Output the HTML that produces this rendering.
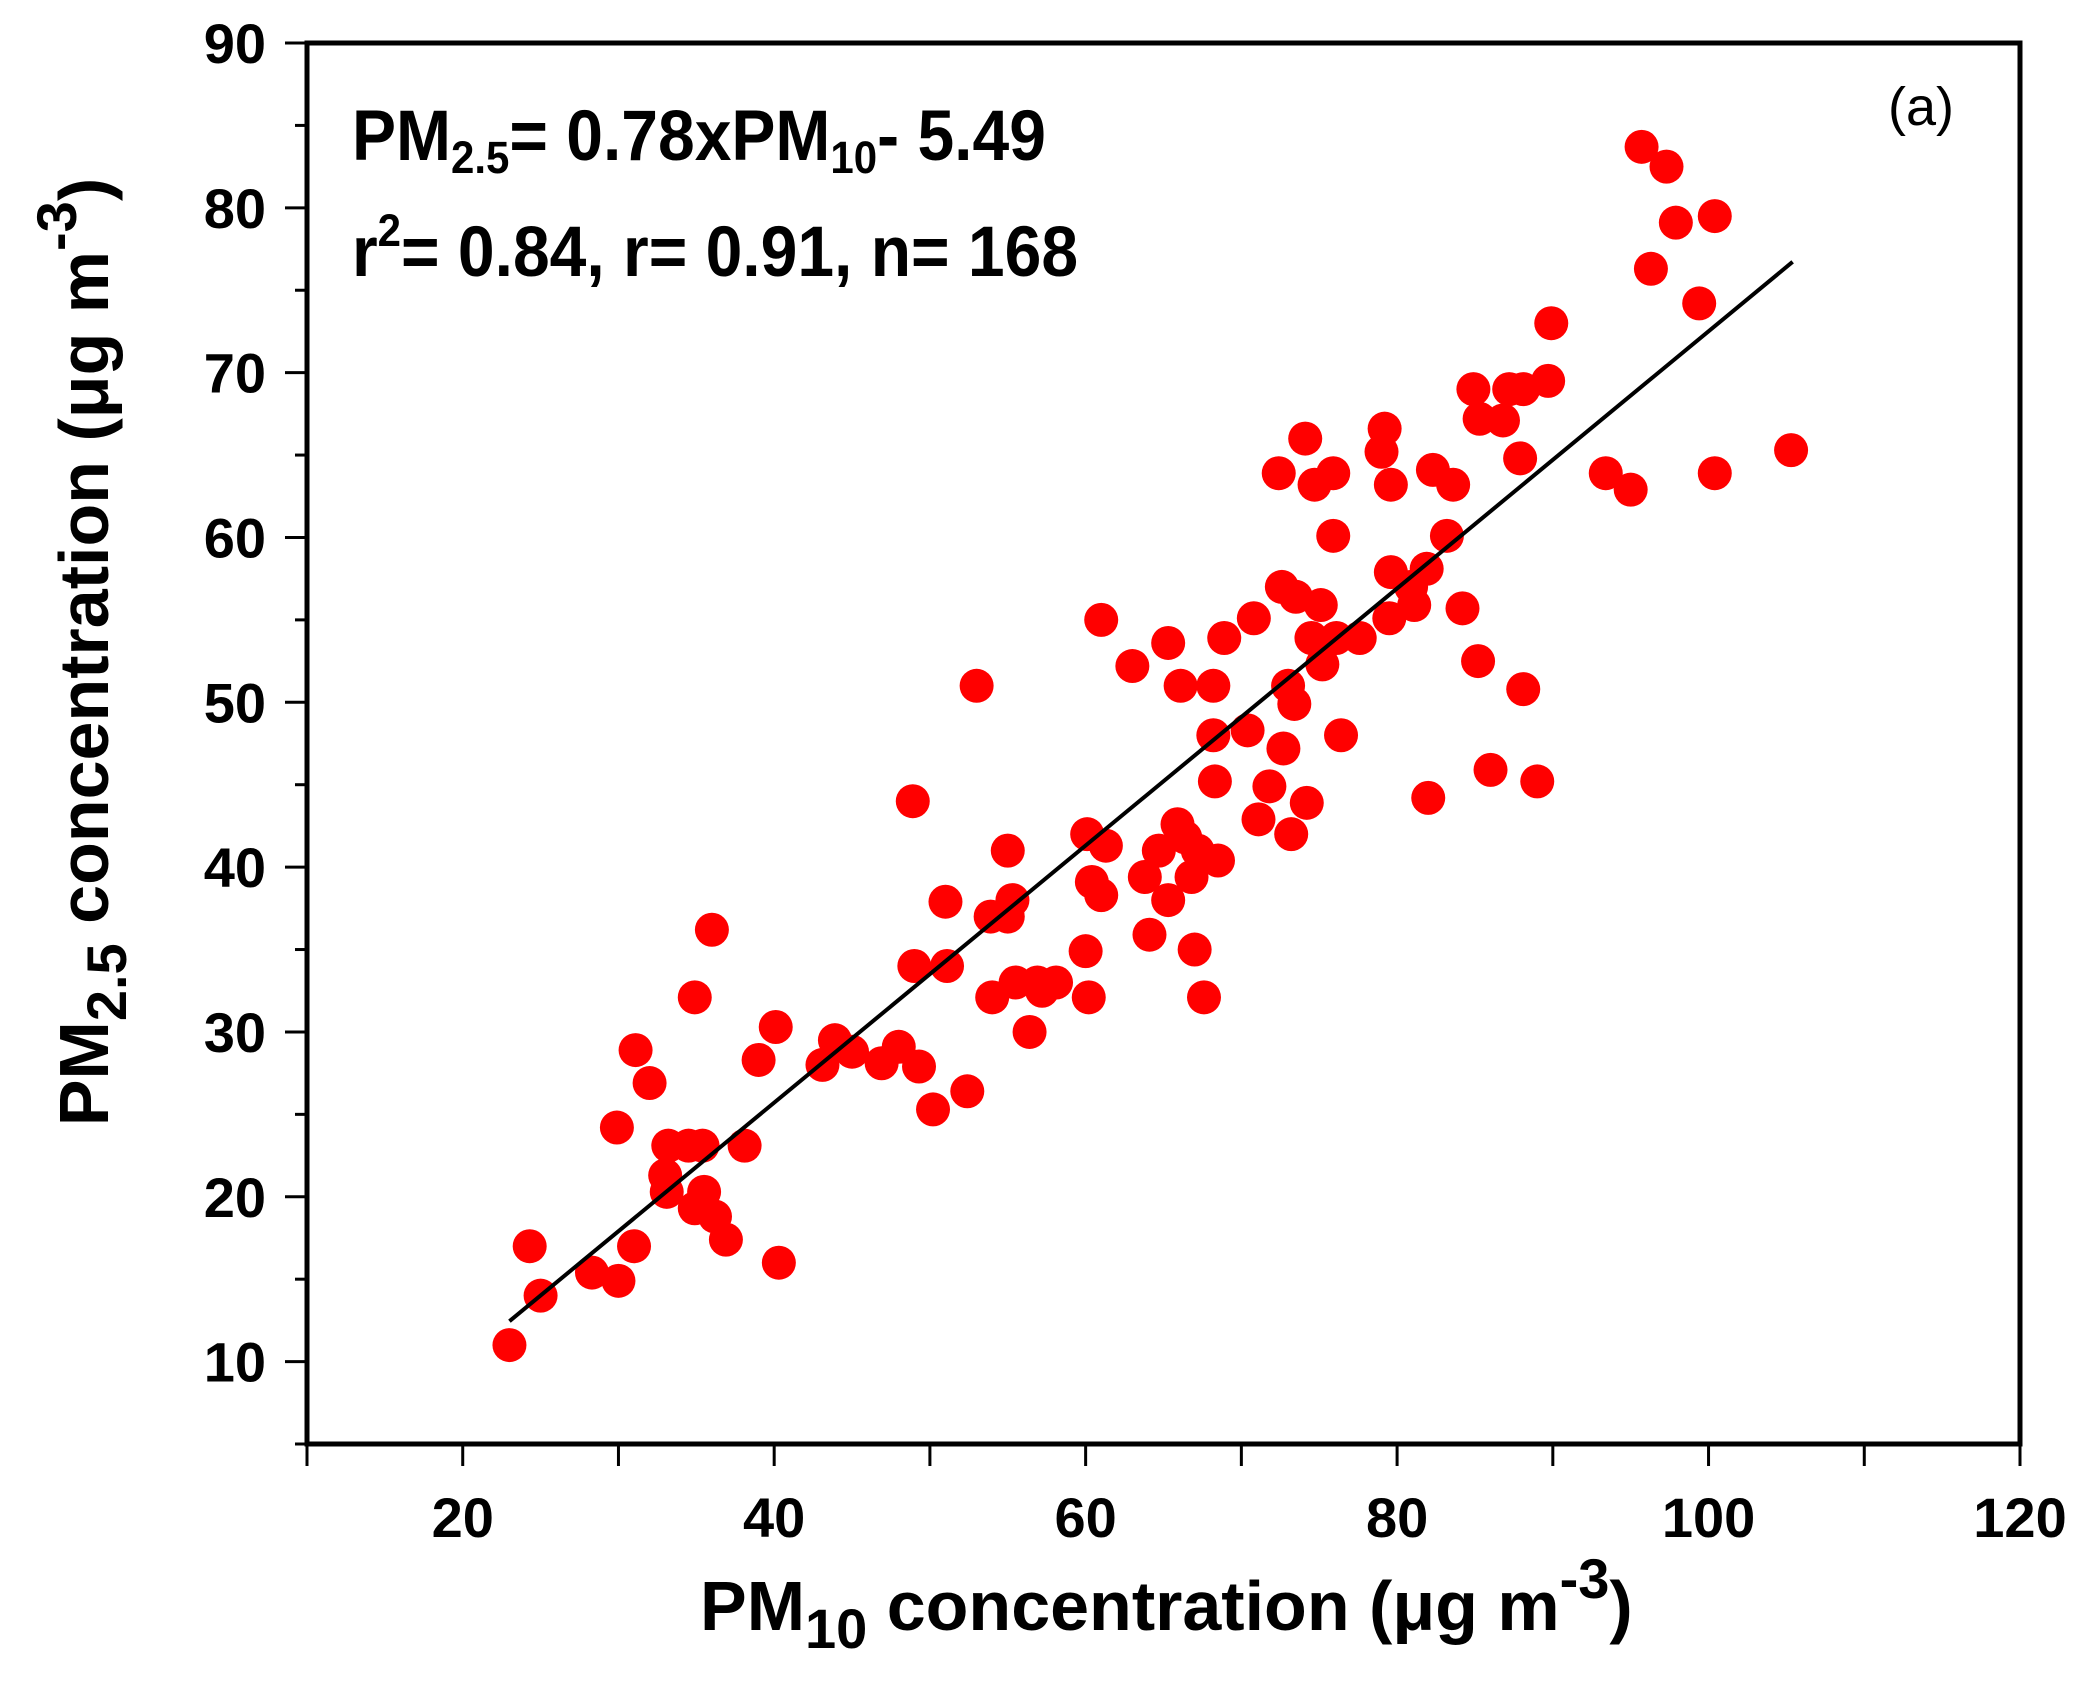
<!DOCTYPE html>
<html><head><meta charset="utf-8"><style>
html,body{margin:0;padding:0;background:#fff}
svg{display:block}
text{font-family:"Liberation Sans",Arial,sans-serif;fill:#000}
</style></head><body>
<svg id="chart" width="2081" height="1687" viewBox="0 0 2081 1687" xmlns="http://www.w3.org/2000/svg">
<g id="ticks"></g>
<g id="points"></g>
<g id="fit"></g>
<rect x="307" y="43" width="1713" height="1401" fill="none" stroke="#000" stroke-width="5"/>
<text x="352" y="160" font-size="66" font-weight="bold" transform="translate(352,160) scale(1,1.08) translate(-352,-160)">PM<tspan font-size="42" dy="12">2.5</tspan><tspan dy="-12">= 0.78xPM</tspan><tspan font-size="42" dy="12">10</tspan><tspan dy="-12">- 5.49</tspan></text>
<text x="352" y="276" font-size="66" font-weight="bold" transform="translate(352,276) scale(1,1.08) translate(-352,-276)">r<tspan font-size="42" dy="-28">2</tspan><tspan dy="28">= 0.84, r= 0.91, n= 168</tspan></text>
<text x="1888" y="125" font-size="54">(a)</text>
<text x="700" y="1630" font-size="70" font-weight="bold">PM<tspan font-size="56" dy="18">10</tspan><tspan dy="-18"> concentration (μg m</tspan><tspan font-size="56" dy="-32">-3</tspan><tspan dy="32">)</tspan></text>
<text transform="translate(108,652) rotate(-90)" text-anchor="middle" font-size="70" font-weight="bold">PM<tspan font-size="56" dy="18">2.5</tspan><tspan dy="-18"> concentration (μg m</tspan><tspan font-size="56" dy="-32">-3</tspan><tspan dy="32">)</tspan></text>
</svg>
<script>
const xs = [23.0,24.3,25.0,28.3,30.0,29.9,31.1,32.0,31.0,33.2,33.0,33.1,34.5,35.4,34.9,36.0,35.5,34.9,36.2,36.9,38.1,39.0,40.1,40.3,43.1,43.9,45.0,46.9,48.0,49.0,48.9,49.3,50.2,51.1,51.0,52.4,53.0,54.0,53.9,55.0,55.3,55.5,56.4,56.9,58.1,60.0,60.2,60.1,60.4,61.0,61.3,61.0,63.0,63.8,64.1,64.7,65.3,65.3,65.9,66.4,66.1,67.0,67.2,66.8,67.6,68.2,68.2,68.3,68.5,68.9,70.4,70.8,71.1,71.8,72.4,72.6,72.7,73.0,73.4,73.2,73.5,74.1,74.2,74.7,75.1,75.2,74.5,75.9,75.9,76.4,76.1,77.6,79.0,79.2,79.6,79.6,79.5,80.9,81.1,81.9,82.0,82.3,83.6,83.2,84.2,84.9,85.3,85.2,86.0,86.8,87.2,87.9,88.1,88.1,89.0,89.7,89.9,93.4,95.0,95.7,96.3,97.3,97.9,99.4,100.4,100.4,105.3,55.0,57.2];
const ys = [11.0,17.0,14.0,15.4,14.9,24.2,28.9,26.9,17.0,23.1,21.3,20.3,23.1,23.1,32.1,36.2,20.3,19.3,18.8,17.4,23.1,28.3,30.3,16.0,28.0,29.5,28.8,28.1,29.1,34.0,44.0,27.9,25.3,34.0,37.9,26.4,51.0,32.1,37.0,41.0,38.0,33.0,30.0,33.0,33.0,34.9,32.1,42.0,39.1,38.3,41.3,55.0,52.2,39.4,35.9,41.0,53.6,38.0,42.6,41.8,51.0,35.0,41.0,39.4,32.1,51.0,48.0,45.2,40.4,53.9,48.3,55.1,42.9,44.9,63.9,57.0,47.2,51.0,49.9,42.0,56.4,66.0,43.9,63.2,55.9,52.3,53.9,63.9,60.1,48.0,53.9,53.9,65.2,66.6,63.2,57.9,55.1,57.0,55.9,58.1,44.2,64.1,63.2,60.1,55.7,69.0,67.2,52.5,45.9,67.1,69.0,64.8,50.8,69.0,45.2,69.5,73.0,63.9,62.9,83.7,76.3,82.5,79.1,74.2,79.5,63.9,65.3,37.0,32.5];
const xTickLabels = [20,40,60,80,100,120];
const yTickLabels = [10,20,30,40,50,60,70,80,90];
const fitSlope = 0.78;
const fitIntercept = -5.49;
const fitRange = [23.0,105.4];

const NS='http://www.w3.org/2000/svg';
const L=307,R=2020,T=43,B=1444;
const X=v=>L+(v-10)*(R-L)/110;
const Y=v=>B-(v-5)*(B-T)/85;
function mk(tag,attrs,parent){const e=document.createElementNS(NS,tag);for(const k in attrs)e.setAttribute(k,attrs[k]);parent.appendChild(e);return e;}
const tg=document.getElementById('ticks');
for(let v=10;v<=120;v+=10){
  const t=mk('line',{x1:X(v),x2:X(v),y1:B,y2:B+22,stroke:'#000','stroke-width':3},tg);
  
  
}
xTickLabels.forEach(v=>{
  const t=mk('text',{x:X(v),y:1537,'text-anchor':'middle','font-size':56,'font-weight':'bold'},tg);
  t.textContent=v;
  
  
});
for(let v=5;v<=90;v+=5){
  const major=v%10===0;
  const t=mk('line',{x1:L-(major?22:12),x2:L,y1:Y(v),y2:Y(v),stroke:'#000','stroke-width':3},tg);
  
  
}
yTickLabels.forEach(v=>{
  const t=mk('text',{x:266,y:Y(v)+20,'text-anchor':'end','font-size':56,'font-weight':'bold'},tg);
  t.textContent=v;
  
  
});
const pg=document.getElementById('points');
xs.forEach((x,i)=>{
  const c=mk('circle',{cx:X(x),cy:Y(ys[i]),r:17,fill:'#ff0000'},pg);
  
  
});
const fg=document.getElementById('fit');
const ln=mk('line',{x1:X(fitRange[0]),y1:Y(fitSlope*fitRange[0]+fitIntercept),x2:X(fitRange[1]),y2:Y(fitSlope*fitRange[1]+fitIntercept),stroke:'#000','stroke-width':4},fg);


</script>
</body></html>
